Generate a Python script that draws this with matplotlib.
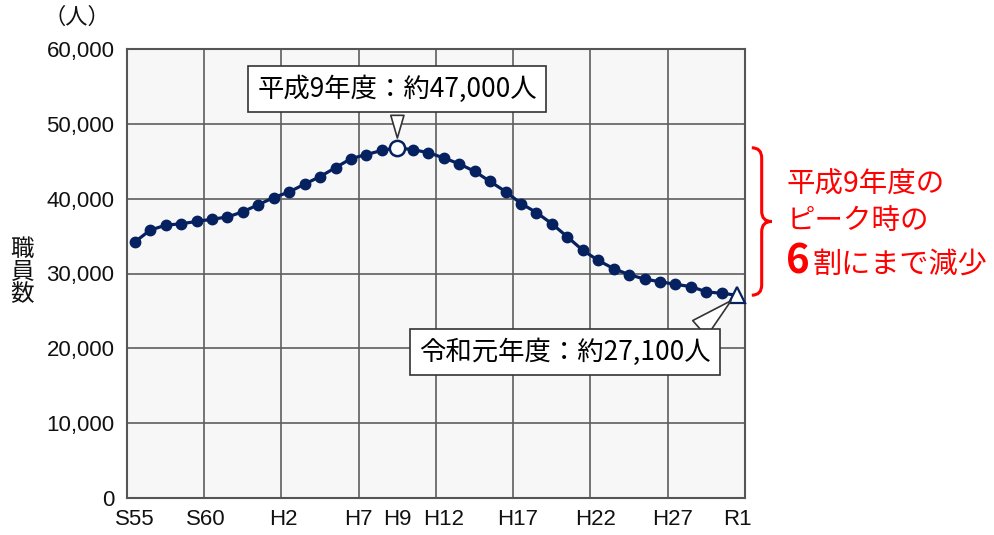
import matplotlib
matplotlib.use("Agg")
import matplotlib.pyplot as plt
from matplotlib import font_manager
from matplotlib.path import Path
from matplotlib.patches import PathPatch
from matplotlib.transforms import blended_transform_factory

# fiscal years S55 (1980) .. R1 (2019)
years = list(range(1980, 2020))
staff = [34200, 35800, 36450, 36650, 36950, 37250, 37550, 38250, 39200, 40150,
         40900, 41950, 42950, 44150, 45350, 45900, 46450, 46800, 46550, 46150,
         45450, 44650, 43650, 42300, 40950, 39350, 38150, 36650, 34900, 33100,
         31750, 30650, 29850, 29250, 28900, 28550, 28250, 27550, 27350, 27100]
tick_labels = ["S55", "S60", "H2", "H7", "H9", "H12", "H17", "H22", "H27", "R1"]
peak_label = "平成9年度：約47,000人"
last_label = "令和元年度：約27,100人"
note_lines = ["平成9年度の", "ピーク時の"]
note_big = "6"
note_rest = "割にまで減少"

# layout
tick_pos = [1980, 1984.6, 1989.6, 1994.5, 1997, 2000, 2004.8, 2009.8, 2014.8, 2019]
grid_pos = [1984.5, 1989.5, 1994.5, 1999.5, 2004.5, 2009.5, 2014.5]
NAVY = "#06215f"
RED = "#ff0000"
JP = ["Noto Sans CJK JP", "DejaVu Sans"]
NUM = ["Liberation Sans", "DejaVu Sans"]
installed = {f.name for f in font_manager.fontManager.ttflist}
if "Liberation Sans Narrow" in installed:
    XFONT, XSIZE = ["Liberation Sans Narrow", "DejaVu Sans"], 19
else:
    XFONT, XSIZE = NUM, 16

W, H = 995, 535
fig = plt.figure(figsize=(W / 100, H / 100), dpi=100)
ax = fig.add_axes([127 / W, 1 - 498 / H, (745 - 127) / W, (498 - 49) / H])
ax.set_facecolor("#f7f7f7")

ax.set_xlim(1979.5, 2019.5)
ax.set_ylim(0, 60000)
ax.set_yticks(range(0, 60001, 10000))
ax.set_yticklabels([f"{v:,}" for v in range(0, 60001, 10000)], family=NUM, fontsize=16)
ax.set_xticks(tick_pos)
ax.set_xticklabels(tick_labels, family=XFONT, fontsize=XSIZE)
ax.tick_params(length=0, pad=9, colors="#111111")
ax.tick_params(axis="x", pad=8)
for s in ax.spines.values():
    s.set_color("#555555")
    s.set_linewidth(1.5)

for v in range(10000, 60000, 10000):
    ax.axhline(v, color="#5e5e5e", lw=1.2, zorder=1)
for gx in grid_pos:
    ax.axvline(gx, color="#5e5e5e", lw=1.2, zorder=1)

ipk = staff.index(max(staff))
ax.plot(years, staff, color=NAVY, lw=2.3, zorder=3)
ax.plot(years[:-1], staff[:-1], "o", color=NAVY, ms=7.5, zorder=4, lw=0)
ax.plot(years[ipk], staff[ipk], "o", mfc="white", mec=NAVY, mew=1.8, ms=11, zorder=5)
ax.plot(years[-1], staff[-1], "^", mfc="white", mec=NAVY, mew=1.6, ms=12, zorder=5,
        clip_on=False)

box = dict(boxstyle="square,pad=0.35", fc="white", ec="#333333", lw=1.2)
ax.annotate(peak_label, xy=(years[ipk], staff[ipk]),
            xytext=(years[ipk], 0.911), textcoords=("data", "axes fraction"),
            ha="center", va="center", family=JP, fontsize=19, bbox=box, zorder=6,
            arrowprops=dict(arrowstyle="wedge,tail_width=0.5", fc="white", ec="#333333",
                            lw=1.2, shrinkB=7, relpos=(0.5, 0.0)))
ax.annotate(last_label, xy=(years[-1], staff[-1]),
            xytext=(0.709, 0.325), textcoords="axes fraction",
            ha="center", va="center", family=JP, fontsize=19, bbox=box, zorder=6,
            annotation_clip=False,
            arrowprops=dict(arrowstyle="wedge,tail_width=0.8", fc="white", ec="#333333",
                            lw=1.2, shrinkA=0, shrinkB=6, relpos=(0.92, 0.97)))

# red brace spanning from the peak level down to R1 level
tr = blended_transform_factory(ax.transAxes, ax.transData)
y0, y1 = staff[ipk], staff[-1]
ym = (y0 + y1) / 2
dy = (y0 - y1) * 0.07
x0, x1, x2 = 1.011, 1.027, 1.043
verts = [(x0, y0), (x1, y0), (x1, y0 - dy),
         (x1, ym + dy),
         (x1, ym), (x2, ym),
         (x1, ym), (x1, ym - dy),
         (x1, y1 + dy),
         (x1, y1), (x0, y1)]
codes = [Path.MOVETO, Path.CURVE3, Path.CURVE3,
         Path.LINETO,
         Path.CURVE3, Path.CURVE3,
         Path.CURVE3, Path.CURVE3,
         Path.LINETO,
         Path.CURVE3, Path.CURVE3]
ax.add_patch(PathPatch(Path(verts, codes), transform=tr, fc="none", ec=RED,
                       lw=2.2, clip_on=False))

fig.text(787 / W, 1 - 185 / H, note_lines[0], color=RED, family=JP, fontsize=20.5,
         ha="left", va="center")
fig.text(787 / W, 1 - 221 / H, note_lines[1], color=RED, family=JP, fontsize=20.5,
         ha="left", va="center")
fig.text(810 / W, 1 - 273 / H, note_big, color=RED, family=JP, fontsize=29,
         fontweight="bold", ha="right", va="baseline")
fig.text(812 / W, 1 - 273 / H, note_rest, color=RED, family=JP, fontsize=21,
         ha="left", va="baseline")

fig.text(22 / W, 1 - 272 / H, "職\n員\n数", family=JP, fontsize=17, ha="center",
         va="center", linespacing=1.0, color="#111111")
fig.text(77 / W, 1 - 17 / H, "（人）", family=JP, fontsize=16, ha="center",
         va="center", color="#111111")

fig.savefig("out.png", dpi=100)
